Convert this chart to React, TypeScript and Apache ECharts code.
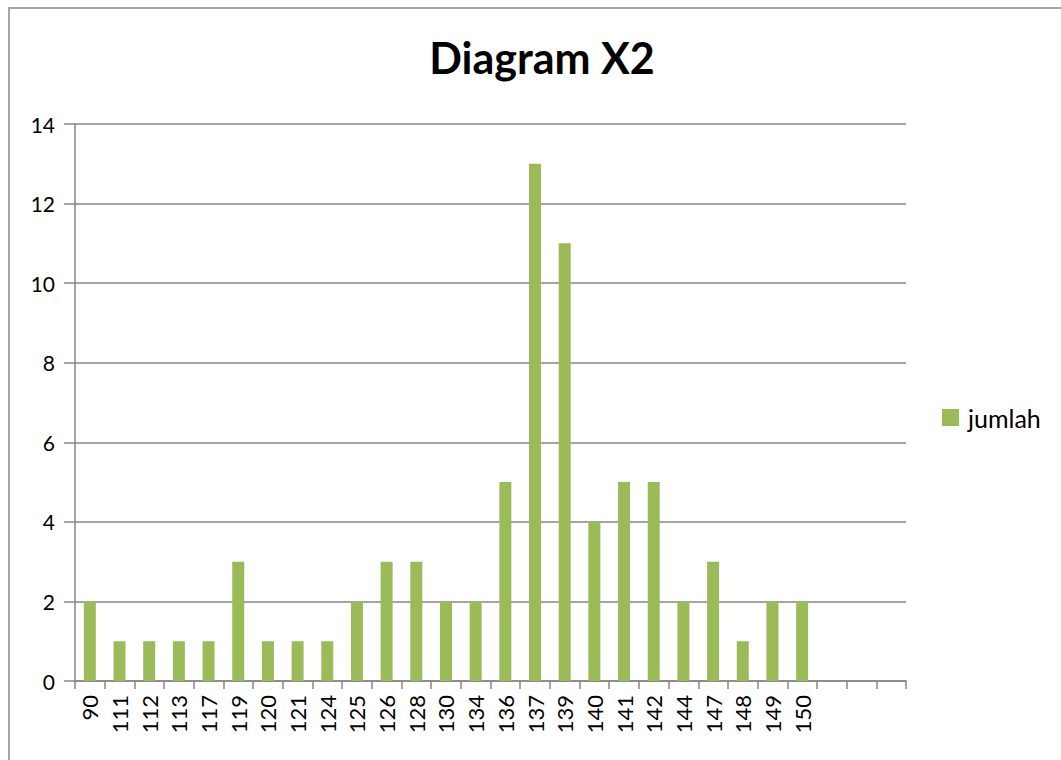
import React, { useEffect, useRef } from "react";
import * as echarts from "echarts";

const categories = [
  "90", "111", "112", "113", "117", "119", "120", "121", "124", "125",
  "126", "128", "130", "134", "136", "137", "139", "140", "141", "142",
  "144", "147", "148", "149", "150", "", "", "",
];
const jumlah = [2, 1, 1, 1, 1, 3, 1, 1, 1, 2, 3, 3, 2, 2, 5, 13, 11, 4, 5, 5, 2, 3, 1, 2, 2];
const seriesName = "jumlah";
const titleText = "Diagram X2";

const FONT = "Lato, 'Noto Sans', sans-serif";
const GRAY = "#868686";

export default function App() {
  const ref = useRef<HTMLDivElement>(null);
  useEffect(() => {
    if (!ref.current) return;
    const chart = echarts.init(ref.current, null, { renderer: "svg" });
    chart.setOption({
      animation: false,
      backgroundColor: "transparent",
      title: {
        text: titleText,
        left: 537,
        textAlign: "center",
        top: 31,
        textStyle: { fontFamily: FONT, fontWeight: "bold", fontSize: 43, color: "#000" },
      },
      legend: {
        data: [seriesName],
        orient: "vertical",
        left: 937,
        top: 400,
        icon: "rect",
        itemWidth: 17,
        itemHeight: 17,
        textStyle: { fontFamily: FONT, fontSize: 25, color: "#000", padding: [0, 0, 0, 4] },
      },
      grid: { left: 75, right: 155, top: 124, bottom: 79, containLabel: false, outerBoundsMode: "none" },
      xAxis: {
        type: "category",
        data: categories,
        boundaryGap: true,
        axisLine: { show: true, lineStyle: { color: GRAY, width: 1.5 } },
        axisTick: { show: true, interval: 0, length: 8, lineStyle: { color: GRAY, width: 1.5 } },
        axisLabel: { interval: 0, rotate: 90, margin: 14, fontFamily: FONT, fontSize: 22, color: "#000" },
        splitLine: { show: false },
      },
      yAxis: {
        type: "value",
        min: 0,
        max: 14,
        interval: 2,
        axisLine: { show: true, lineStyle: { color: GRAY, width: 1.5 } },
        axisTick: { show: true, length: 11, lineStyle: { color: GRAY, width: 1.5 } },
        axisLabel: { margin: 20, fontFamily: FONT, fontSize: 21, color: "#000" },
        splitLine: { show: true, lineStyle: { color: GRAY, width: 1.5 } },
      },
      series: [
        {
          name: seriesName,
          type: "bar",
          data: jumlah,
          barWidth: 12,
          itemStyle: { color: "#9BBB59" },
        },
      ],
    });
    return () => chart.dispose();
  }, []);
  return (
    <div style={{ position: "absolute", left: 0, top: 0, width: 1061, height: 760, overflow: "hidden", background: "#fff" }}>
      <div
        style={{
          position: "absolute",
          left: 8,
          top: 7,
          width: 1200,
          height: 900,
          border: "2px solid #a6a6a6",
          boxSizing: "border-box",
        }}
      />
      <div ref={ref} style={{ position: "absolute", left: 0, top: 0, width: 1061, height: 760 }} />
    </div>
  );
}
